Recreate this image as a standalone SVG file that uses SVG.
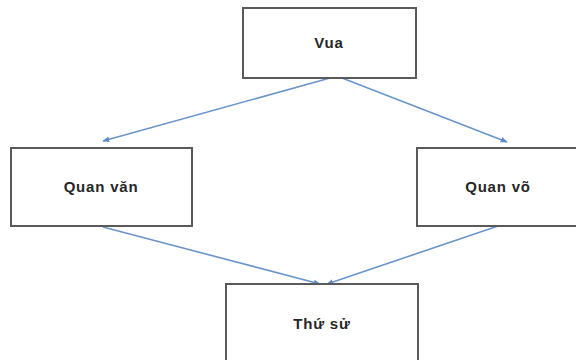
<svg xmlns="http://www.w3.org/2000/svg" width="576" height="360" viewBox="0 0 576 360">
<defs>
<marker id="ah" viewBox="0 0 10 10" refX="9" refY="5" markerWidth="7" markerHeight="7" orient="auto" markerUnits="userSpaceOnUse">
<path d="M0,1 L10,5 L0,9 Z" fill="#5b8bc9"/>
</marker>
<style>
.box{fill:#fff;stroke:#5a5a5a;stroke-width:2}
.lbl{font-family:"Liberation Sans",Arial,sans-serif;font-weight:bold;font-size:15px;fill:#262626;text-anchor:middle;letter-spacing:0.8px}
.con{stroke:#6a95cc;stroke-width:1.6;fill:none;marker-end:url(#ah)}
</style>
</defs>
<rect width="576" height="360" fill="#fff"/>
<g id="connectors">
<line class="con" x1="330" y1="78" x2="103" y2="141"/>
<line class="con" x1="342" y1="78" x2="507" y2="142"/>
<line class="con" x1="103" y1="227" x2="320" y2="284"/>
<line class="con" x1="498" y1="226" x2="327" y2="284"/>
</g>
<g id="vua">
<rect class="box" x="243" y="8" width="173" height="70"/>
<text class="lbl" x="329" y="48">Vua</text>
</g>
<g id="quan-van">
<rect class="box" x="11" y="148" width="181" height="78"/>
<text class="lbl" x="101" y="192">Quan văn</text>
</g>
<g id="quan-vo">
<rect class="box" x="417" y="148" width="170" height="78"/>
<text class="lbl" x="498" y="192">Quan võ</text>
</g>
<g id="thu-su">
<rect class="box" x="226" y="284" width="192" height="90"/>
<text class="lbl" x="322" y="329">Thứ sử</text>
</g>
</svg>
